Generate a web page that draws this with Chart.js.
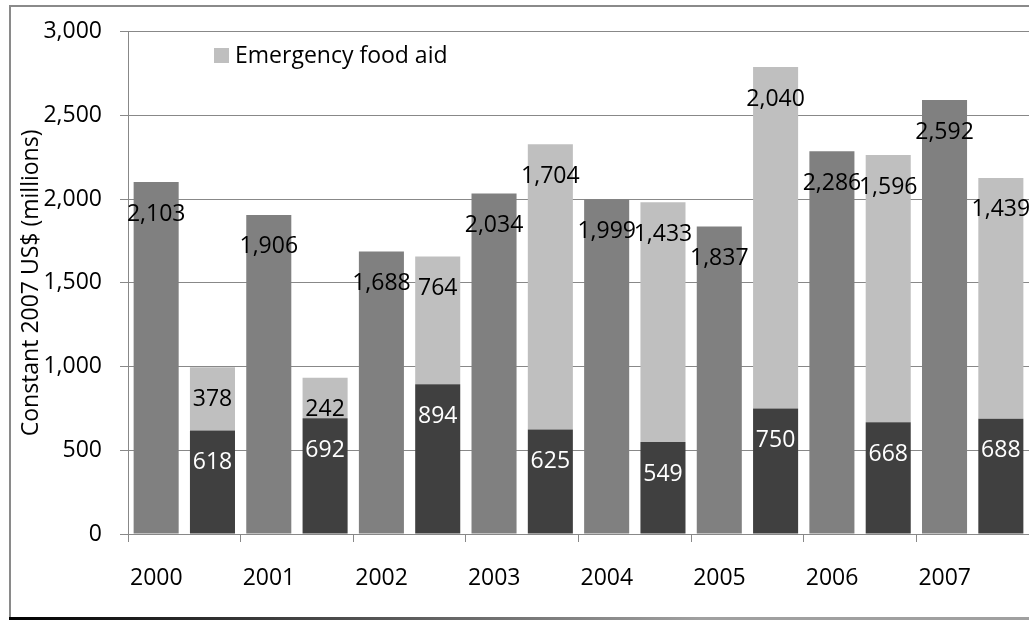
<!DOCTYPE html>
<html>
<head>
<meta charset="utf-8">
<script src="https://cdn.jsdelivr.net/npm/chart.js@4"></script>
<style>
  html, body { margin: 0; padding: 0; background: #fff; }
  #wrap { width: 1029px; height: 621px; }
</style>
</head>
<body>
<div id="wrap"><canvas id="c" width="1029" height="621"></canvas></div>
<script>
const years = ['2000', '2001', '2002', '2003', '2004', '2005', '2006', '2007'];
const totalFoodAid = [2103, 1906, 1688, 2034, 1999, 1837, 2286, 2592];
const nonEmergencyFoodAid = [618, 692, 894, 625, 549, 750, 668, 688];
const emergencyFoodAid = [378, 242, 764, 1704, 1433, 2040, 1596, 1439];
const yTicks = [0, 500, 1000, 1500, 2000, 2500, 3000];

const FONT = '"Open Sans"';
const FS = 23;
const fmt = v => Number(v).toLocaleString('en-US');

const frame = {
  id: 'frame',
  beforeDraw(chart) {
    const ctx = chart.ctx;
    ctx.save();
    ctx.fillStyle = '#fff';
    ctx.fillRect(0, 0, chart.width, chart.height);
    ctx.strokeStyle = '#8a8a8a';
    ctx.lineWidth = 2;
    ctx.beginPath();
    ctx.moveTo(10, 619);
    ctx.lineTo(10, 6);
    ctx.lineTo(chart.width, 6);
    ctx.stroke();
    const g = ctx.createLinearGradient(10, 0, 700, 0);
    g.addColorStop(0, '#000');
    g.addColorStop(1, '#a0a0a0');
    ctx.strokeStyle = g;
    ctx.lineWidth = 3;
    ctx.beginPath();
    ctx.moveTo(9, 618.5);
    ctx.lineTo(chart.width, 618.5);
    ctx.stroke();
    ctx.restore();
  }
};

const labelsPlugin = {
  id: 'valueLabels',
  afterDatasetsDraw(chart) {
    const ctx = chart.ctx;
    const colors = ['#000', '#fff', '#000'];
    ctx.save();
    ctx.font = FS + 'px ' + FONT;
    ctx.textAlign = 'center';
    ctx.textBaseline = 'middle';
    chart.data.datasets.forEach((ds, i) => {
      const meta = chart.getDatasetMeta(i);
      meta.data.forEach((el, j) => {
        ctx.fillStyle = colors[i];
        ctx.fillText(fmt(ds.data[j]), el.x, el.y + 32);
      });
    });
    ctx.restore();
  }
};

const legendPlugin = {
  id: 'insideLegend',
  afterDraw(chart) {
    const ctx = chart.ctx;
    ctx.save();
    ctx.fillStyle = '#BFBFBF';
    ctx.fillRect(214, 48, 15, 15);
    ctx.fillStyle = '#000';
    ctx.font = FS + 'px ' + FONT;
    ctx.textAlign = 'left';
    ctx.textBaseline = 'middle';
    ctx.fillText(chart.data.datasets[2].label, 235, 56);
    ctx.restore();
  }
};

new Chart(document.getElementById('c'), {
  type: 'bar',
  data: {
    labels: years,
    datasets: [
      { label: 'Total food aid', data: totalFoodAid, backgroundColor: '#808080', stack: 'total' },
      { label: 'Non-emergency food aid', data: nonEmergencyFoodAid, backgroundColor: '#404040', stack: 'split' },
      { label: 'Emergency food aid', data: emergencyFoodAid, backgroundColor: '#BFBFBF', stack: 'split' }
    ]
  },
  options: {
    responsive: false,
    animation: false,
    events: [],
    categoryPercentage: 1.0,
    barPercentage: 0.8,
    layout: { padding: { left: 0, right: 0, top: 29.5, bottom: 0 } },
    plugins: { legend: { display: false }, tooltip: { enabled: false } },
    scales: {
      x: {
        stacked: true,
        afterFit(s) { s.height = 87; },
        grid: { drawOnChartArea: false, drawTicks: true, tickLength: 8, color: '#888', offset: true },
        border: { color: '#888', width: 1 },
        ticks: { color: '#000', font: { family: FONT, size: FS }, padding: 23, labelOffset: -28, maxRotation: 0, autoSkip: false }
      },
      y: {
        stacked: true,
        min: 0,
        max: 3000,
        afterFit(s) { s.width = 128; },
        afterBuildTicks(s) { s.ticks = yTicks.map(v => ({ value: v })); },
        grid: { color: '#888', tickLength: 8, drawTicks: true },
        border: { color: '#888', width: 1 },
        ticks: { color: '#000', font: { family: FONT, size: FS }, padding: 18, callback: v => fmt(v) },
        title: { display: true, text: 'Constant 2007 US$ (millions)', color: '#000', font: { family: FONT, size: FS }, padding: { top: 18, bottom: 0 } }
      }
    }
  },
  plugins: [frame, labelsPlugin, legendPlugin]
});
</script>
</body>
</html>
